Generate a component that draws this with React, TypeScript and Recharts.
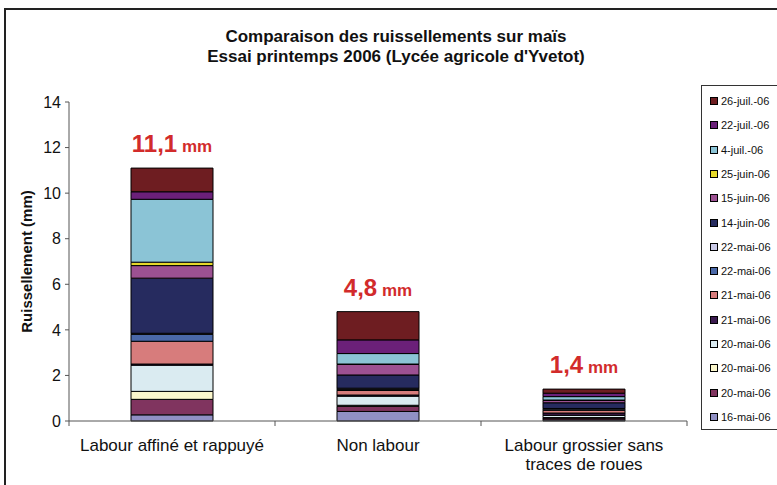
import { BarChart, Bar, XAxis, YAxis, LabelList, Label } from 'recharts';

// Essai printemps 2006, ruissellement cumulé par date d'orage (mm)
const categories = ['Labour affiné et rappuyé', 'Non labour', 'Labour grossier sans traces de roues'];
const categoryLines = [['Labour affiné et rappuyé'], ['Non labour'], ['Labour grossier sans', 'traces de roues']];
const totalLabels = ['11,1', '4,8', '1,4'];
const yTicks = [0, 2, 4, 6, 8, 10, 12, 14];

// du bas vers le haut de la pile
const mai16 = [0.27, 0.42, 0.05];
const mai20a = [0.68, 0.22, 0.08];
const mai20b = [0.35, 0.05, 0.02];
const mai20c = [1.15, 0.4, 0.1];
const mai21a = [0.05, 0.05, 0.1];
const mai21b = [1.0, 0.2, 0.12];
const mai22a = [0.3, 0.05, 0.05];
const mai22b = [0.05, 0.05, 0.03];
const juin14 = [2.42, 0.58, 0.25];
const juin15 = [0.55, 0.46, 0.1];
const juin25 = [0.15, 0.02, 0.02];
const juil4 = [2.76, 0.46, 0.15];
const juil22 = [0.33, 0.6, 0.15];
const juil26 = [1.04, 1.24, 0.18];

const series = [
  { key: 's0', name: '16-mai-06', values: mai16, color: '#9090C4' },
  { key: 's1', name: '20-mai-06', values: mai20a, color: '#80345F' },
  { key: 's2', name: '20-mai-06', values: mai20b, color: '#FBF7CC' },
  { key: 's3', name: '20-mai-06', values: mai20c, color: '#DAEBF1' },
  { key: 's4', name: '21-mai-06', values: mai21a, color: '#3B1A4F' },
  { key: 's5', name: '21-mai-06', values: mai21b, color: '#D77C7C' },
  { key: 's6', name: '22-mai-06', values: mai22a, color: '#4A68A8' },
  { key: 's7', name: '22-mai-06', values: mai22b, color: '#C9C9E6' },
  { key: 's8', name: '14-juin-06', values: juin14, color: '#262B5F' },
  { key: 's9', name: '15-juin-06', values: juin15, color: '#9C5192' },
  { key: 's10', name: '25-juin-06', values: juin25, color: '#E6D82A' },
  { key: 's11', name: '4-juil.-06', values: juil4, color: '#8BC4D6' },
  { key: 's12', name: '22-juil.-06', values: juil22, color: '#6B2079' },
  { key: 's13', name: '26-juil.-06', values: juil26, color: '#6E1D21' },
];

const data = categories.map((cat, i) => {
  const row: Record<string, string | number> = { cat, total: totalLabels[i] };
  series.forEach((s) => {
    row[s.key] = s.values[i];
  });
  return row;
});

const FONT = '"Liberation Sans", Arial, sans-serif';

function CategoryTick(props: any) {
  const { x, y, payload, index, visibleTicksCount } = props;
  const lines = categoryLines[index] ?? [payload.value];
  const half = payload.offset || 103;
  const last = index === (visibleTicksCount ?? 3) - 1;
  return (
    <g>
      <line x1={x - half} x2={x - half} y1={y} y2={y + 5} stroke="#555" />
      {last && <line x1={x + half} x2={x + half} y1={y} y2={y + 5} stroke="#555" />}
      <text x={x} y={y + 30} textAnchor="middle" fontSize={17} fill="#111" fontFamily={FONT}>
        {lines.map((l: string, i: number) => (
          <tspan key={i} x={x} dy={i === 0 ? 0 : 19}>
            {l}
          </tspan>
        ))}
      </text>
    </g>
  );
}

function TotalLabel(props: any) {
  const { x, y, width, value } = props;
  return (
    <text x={x + width / 2} y={y - 16} textAnchor="middle" fill="#D22B2B" fontWeight="bold" fontFamily={FONT}>
      <tspan fontSize={24}>{value}</tspan>
      <tspan fontSize={17}> mm</tspan>
    </text>
  );
}

export default function App() {
  return (
    <div style={{ position: 'absolute', left: 0, top: 0, width: 777, height: 485, overflow: 'hidden', background: '#fff', fontFamily: FONT }}>
      <div style={{ position: 'absolute', left: 4, top: 8, width: 820, height: 520, border: '2px solid #222' }} />
      <div style={{ position: 'absolute', left: 0, top: 27, width: 792, textAlign: 'center', fontSize: 17, fontWeight: 'bold', lineHeight: '20px', color: '#111' }}>
        Comparaison des ruissellements sur maïs
        <br />
        Essai printemps 2006 (Lycée agricole d'Yvetot)
      </div>
      <BarChart
        width={777}
        height={485}
        data={data}
        margin={{ top: 102, right: 90, bottom: 0, left: 0 }}
        style={{ position: 'absolute', left: 0, top: 0 }}
      >
        <XAxis
          dataKey="cat"
          height={64}
          axisLine={{ stroke: '#555' }}
          tickLine={false}
          tickSize={0}
          tickMargin={0}
          tick={<CategoryTick />}
          interval={0}
        />
        <YAxis
          width={69}
          domain={[0, 14]}
          ticks={yTicks}
          interval={0}
          axisLine={{ stroke: '#555' }}
          tickLine={{ stroke: '#555' }}
          tickSize={4}
          tickMargin={4}
          tick={{ fontSize: 16, fill: '#111', fontFamily: FONT }}
        >
          <Label
            content={({ viewBox }: any) => {
              const cy = viewBox.y + viewBox.height / 2;
              return (
                <text
                  x={28}
                  y={cy}
                  transform={`rotate(-90 28 ${cy})`}
                  textAnchor="middle"
                  dominantBaseline="middle"
                  fontSize={15}
                  fontWeight="bold"
                  fill="#111"
                  fontFamily={FONT}
                >
                  Ruissellement (mm)
                </text>
              );
            }}
          />
        </YAxis>
        {series.map((s, i) => (
          <Bar
            key={s.key}
            dataKey={s.key}
            name={s.name}
            stackId="a"
            fill={s.color}
            stroke="#000"
            strokeWidth={1}
            barSize={82}
            isAnimationActive={false}
          >
            {i === series.length - 1 && <LabelList dataKey="total" content={<TotalLabel />} />}
          </Bar>
        ))}
      </BarChart>
      <div style={{ position: 'absolute', left: 701, top: 85, width: 100, height: 343, border: '1px solid #333', background: '#fff' }}>
        {[...series].reverse().map((s, i) => (
          <div key={s.key} style={{ position: 'absolute', left: 8, top: 9 + i * 24.3, height: 12, display: 'flex', alignItems: 'center', fontSize: 11, color: '#111', whiteSpace: 'nowrap' }}>
            <span style={{ display: 'inline-block', width: 6, height: 6, background: s.color, border: '1px solid #000', marginRight: 3 }} />
            {s.name}
          </div>
        ))}
      </div>
    </div>
  );
}
